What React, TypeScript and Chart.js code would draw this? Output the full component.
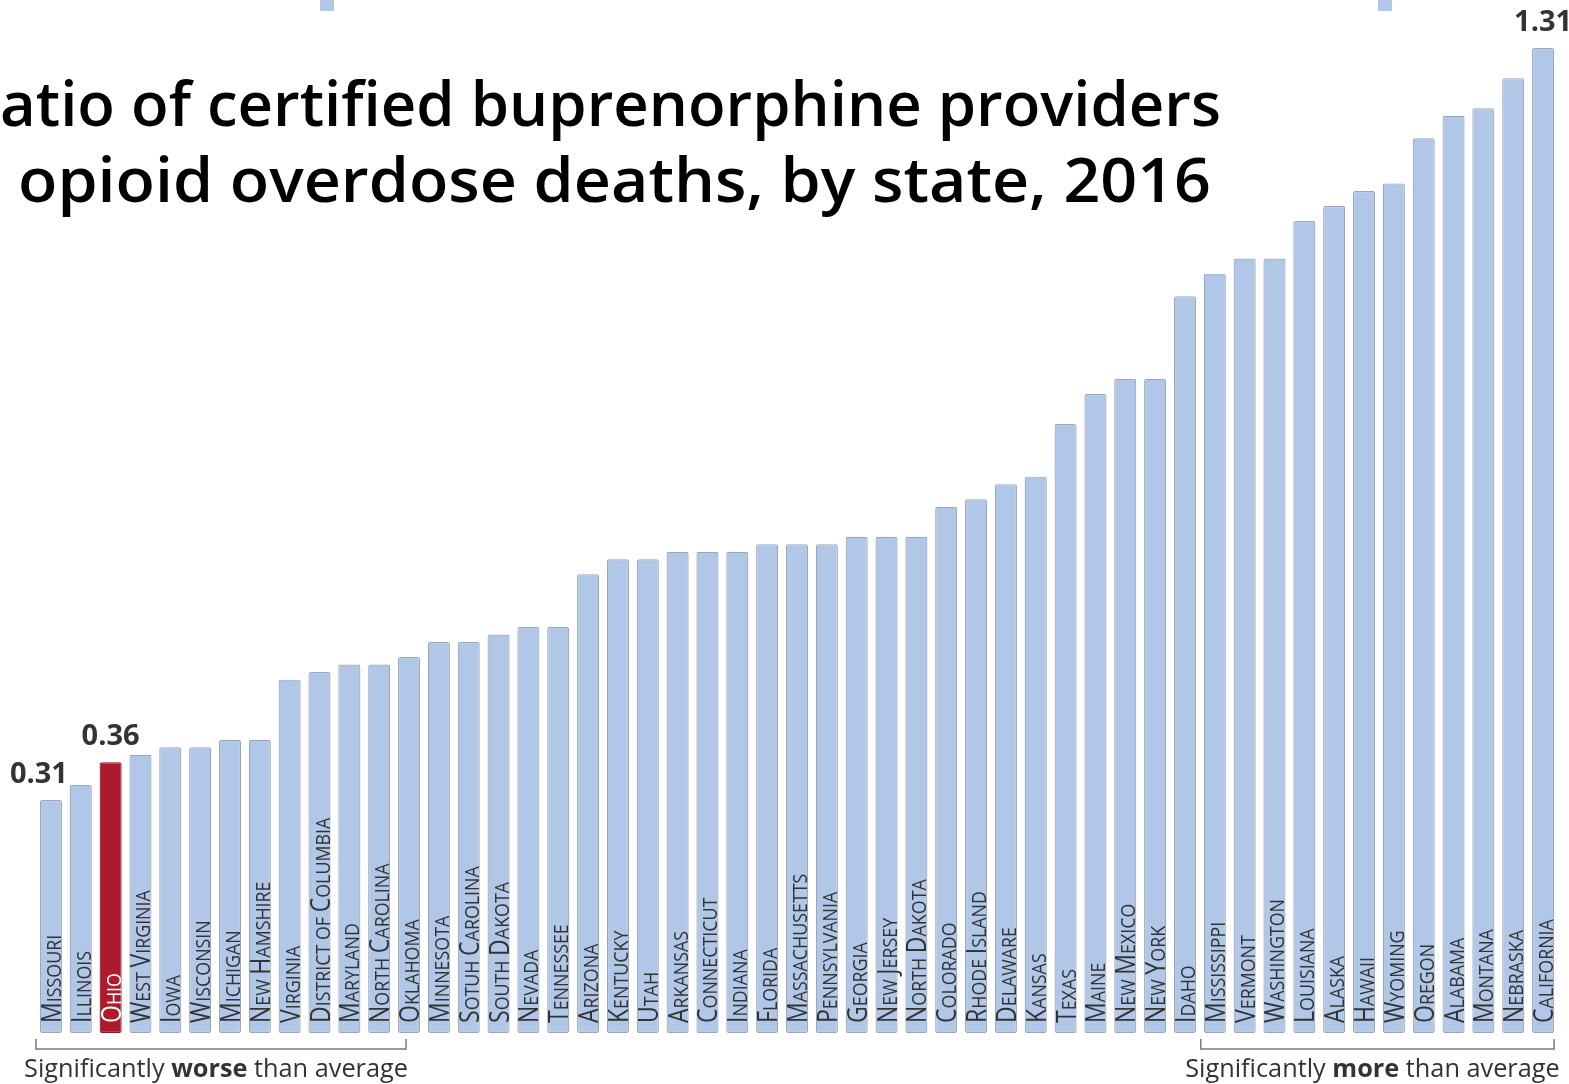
import React, { useEffect, useRef } from "react";
import { Chart, registerables } from "chart.js";

Chart.register(...registerables);

// States ordered from lowest to highest provider-to-death ratio
const states = [
  "Missouri", "Illinois", "Ohio", "West Virginia", "Iowa", "Wisconsin", "Michigan",
  "New Hamshire", "Virginia", "District of Columbia", "Maryland", "North Carolina",
  "Oklahoma", "Minnesota", "Sotuh Carolina", "South Dakota", "Nevada", "Tennessee",
  "Arizona", "Kentucky", "Utah", "Arkansas", "Connecticut", "Indiana", "Florida",
  "Massachusetts", "Pennsylvania", "Georgia", "New Jersey", "North Dakota", "Colorado",
  "Rhode Island", "Delaware", "Kansas", "Texas", "Maine", "New Mexico", "New York",
  "Idaho", "Mississippi", "Vermont", "Washington", "Louisiana", "Alaska", "Hawaii",
  "Wyoming", "Oregon", "Alabama", "Montana", "Nebraska", "California",
];

const ratios = [
  0.31, 0.33, 0.36, 0.37, 0.38, 0.38, 0.39,
  0.39, 0.47, 0.48, 0.49, 0.49,
  0.50, 0.52, 0.52, 0.53, 0.54, 0.54,
  0.61, 0.63, 0.63, 0.64, 0.64, 0.64, 0.65,
  0.65, 0.65, 0.66, 0.66, 0.66, 0.70,
  0.71, 0.73, 0.74, 0.81, 0.85, 0.87, 0.87,
  0.98, 1.01, 1.03, 1.03, 1.08, 1.10, 1.12,
  1.13, 1.19, 1.22, 1.23, 1.27, 1.31,
];

const highlightState = "Ohio";
const valueLabelStates = ["Missouri", "Ohio", "California"];

const titleLines = [
  "Ratio of certified buprenorphine providers",
  "to opioid overdose deaths, by state, 2016",
];

// [first state, last state, text before, bold word, text after]
const worseGroup = ["Missouri", "Oklahoma", "Significantly ", "worse", " than average"];
const moreGroup = ["Mississippi", "California", "Significantly ", "more", " than average"];

const BLUE = "#b0c7e8";
const BLUE_EDGE = "#9ba6b7";
const RED = "#ad1a2c";
const RED_EDGE = "#8f1524";
const TEXT = "#333333";
const SANS = '"Open Sans", "DejaVu Sans", sans-serif';

function drawSmallCaps(
  ctx: CanvasRenderingContext2D,
  text: string,
  bigPx: number,
  smallPx: number
) {
  let pos = 0;
  for (const ch of text) {
    const isBig = ch !== ch.toLowerCase();
    const glyph = ch.toUpperCase();
    ctx.font = `400 ${isBig ? bigPx : smallPx}px ${SANS}`;
    ctx.fillText(glyph, pos, 0);
    pos += ctx.measureText(glyph).width;
  }
}

function drawMixed(
  ctx: CanvasRenderingContext2D,
  parts: [string, string][],
  cx: number,
  y: number,
  px: number
) {
  let total = 0;
  for (const [t, w] of parts) {
    ctx.font = `${w} ${px}px ${SANS}`;
    total += ctx.measureText(t).width;
  }
  let pos = cx - total / 2;
  for (const [t, w] of parts) {
    ctx.font = `${w} ${px}px ${SANS}`;
    ctx.fillText(t, pos, y);
    pos += ctx.measureText(t).width;
  }
}

// Draws a title line right-aligned at `right`, stretched so that the part after
// the first `hidden` characters spans `span` pixels.
function drawTitleLine(
  ctx: CanvasRenderingContext2D,
  text: string,
  hidden: number,
  right: number,
  span: number,
  y: number
) {
  const visible = ctx.measureText(text.slice(hidden)).width;
  const sx = span / visible;
  ctx.save();
  ctx.translate(right, y);
  ctx.scale(sx, 1);
  ctx.textAlign = "right";
  ctx.fillText(text, 0, 0);
  ctx.restore();
}

const decorPlugin = {
  id: "decor",
  afterDatasetsDraw(chart: any) {
    const ctx: CanvasRenderingContext2D = chart.ctx;
    const meta = chart.getDatasetMeta(0);
    const base = chart.scales.y.getPixelForValue(0);

    // State names written up the inside of each bar
    ctx.save();
    ctx.textBaseline = "alphabetic";
    ctx.textAlign = "left";
    meta.data.forEach((bar: any, i: number) => {
      ctx.save();
      ctx.fillStyle = states[i] === highlightState ? "#ffffff" : TEXT;
      ctx.translate(bar.x + 10, base - 10);
      ctx.rotate(-Math.PI / 2);
      ctx.scale(0.87, 1);
      drawSmallCaps(ctx, states[i], 26.5, 20.5);
      ctx.restore();
    });
    ctx.restore();

    // Value labels above selected bars
    ctx.save();
    ctx.fillStyle = TEXT;
    ctx.textAlign = "center";
    ctx.textBaseline = "alphabetic";
    ctx.font = `700 29px ${SANS}`;
    valueLabelStates.forEach((name) => {
      const i = states.indexOf(name);
      const bar = meta.data[i];
      const dx = i === 0 ? -12 : 0;
      ctx.fillText(ratios[i].toFixed(2), bar.x + dx, bar.y - 17);
    });
    ctx.restore();

    // Group brackets with captions
    const groups = [
      { g: worseGroup, l: -15, r: -3 },
      { g: moreGroup, l: -14, r: 11 },
    ];
    groups.forEach(({ g, l, r }) => {
      const a = meta.data[states.indexOf(g[0])];
      const b = meta.data[states.indexOf(g[1])];
      const x0 = a.x + l;
      const x1 = b.x + r;
      ctx.save();
      ctx.strokeStyle = "#7a7a7a";
      ctx.lineWidth = 1.5;
      ctx.beginPath();
      ctx.moveTo(x0, base + 6);
      ctx.lineTo(x0, base + 16);
      ctx.lineTo(x1, base + 16);
      ctx.lineTo(x1, base + 6);
      ctx.stroke();
      ctx.fillStyle = TEXT;
      ctx.textBaseline = "alphabetic";
      drawMixed(
        ctx,
        [[g[2], "400"], [g[3], "700"], [g[4], "400"]],
        (x0 + x1) / 2 - 5,
        base + 44,
        25.3
      );
      ctx.restore();
    });
  },
  afterDraw(chart: any) {
    const ctx: CanvasRenderingContext2D = chart.ctx;
    ctx.save();
    // small slide ornaments along the top edge
    ctx.fillStyle = BLUE;
    ctx.fillRect(320, 0, 14, 11);
    ctx.fillRect(1378, 0, 14, 11);

    // Title, right-aligned, running off the left edge
    ctx.fillStyle = "#000000";
    ctx.textBaseline = "alphabetic";
    ctx.font = `600 62px ${SANS}`;
    drawTitleLine(ctx, titleLines[0], 1, 1221, 1221, 126);
    drawTitleLine(ctx, titleLines[1], 3, 1211, 1193, 202);
    ctx.restore();
  },
};

export default function App() {
  const canvasRef = useRef<HTMLCanvasElement | null>(null);

  useEffect(() => {
    const canvas = canvasRef.current;
    if (!canvas) return;
    const chart = new Chart(canvas, {
      type: "bar",
      data: {
        labels: states,
        datasets: [
          {
            data: ratios,
            backgroundColor: states.map((s) => (s === highlightState ? RED : BLUE)),
            borderColor: states.map((s) => (s === highlightState ? RED_EDGE : BLUE_EDGE)),
            borderWidth: 1.2,
            borderRadius: 2,
            borderSkipped: false,
            barPercentage: 0.74,
            categoryPercentage: 1.0,
          },
        ],
      },
      options: {
        responsive: false,
        animation: false,
        devicePixelRatio: 1,
        layout: { padding: { top: 18, bottom: 51, left: 36, right: 11 } },
        plugins: {
          legend: { display: false },
          tooltip: { enabled: false },
          title: { display: false },
        },
        scales: {
          x: { display: false, grid: { display: false } },
          y: { display: false, min: 0, max: 1.35, grid: { display: false } },
        },
      },
      plugins: [decorPlugin],
    });
    return () => chart.destroy();
  }, []);

  return (
    <div
      style={{
        position: "absolute",
        left: 0,
        top: 0,
        width: 1569,
        height: 1084,
        background: "#ffffff",
        overflow: "hidden",
      }}
    >
      <canvas ref={canvasRef} width={1569} height={1084} />
    </div>
  );
}
